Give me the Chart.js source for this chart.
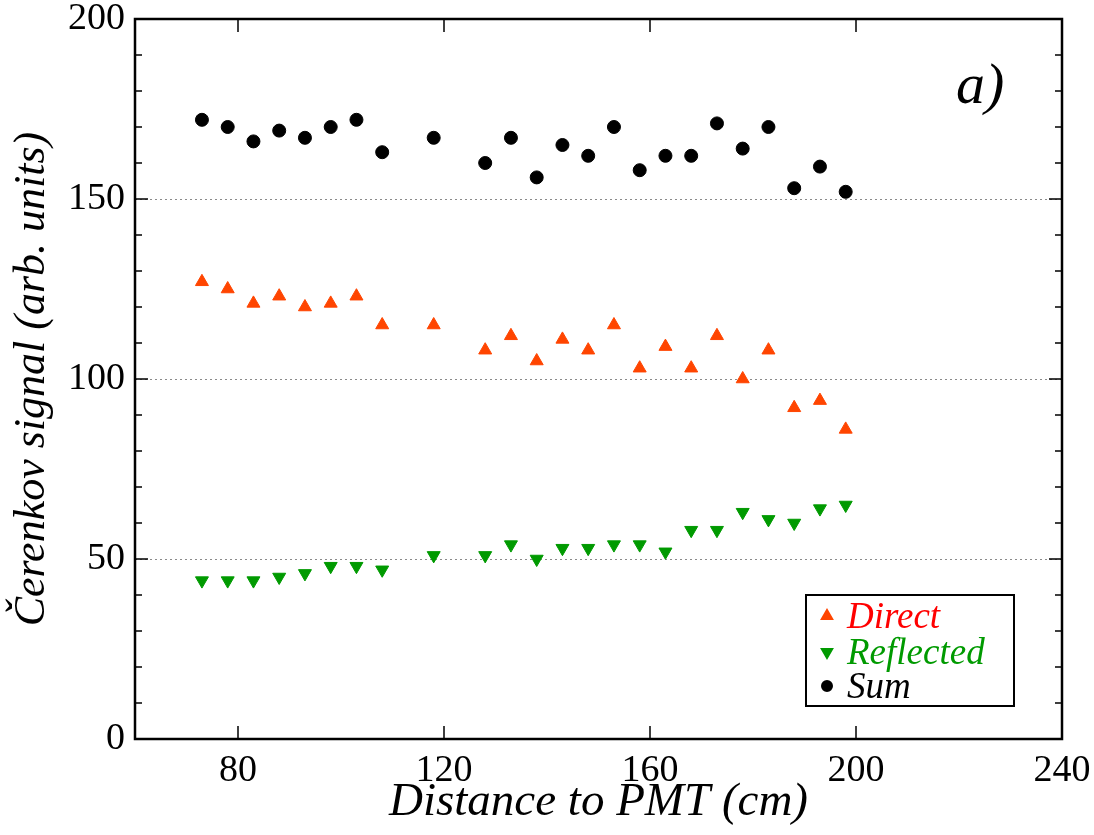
<!DOCTYPE html>
<html>
<head>
<meta charset="utf-8">
<script src="https://cdn.jsdelivr.net/npm/chart.js@4.4.0/dist/chart.umd.min.js"></script>
<style>
    html, body { margin: 0; padding: 0; background: #fff; }
    #wrap { width: 1094px; height: 835px; }
</style>
</head>
<body>
<div id="wrap"><canvas id="chart" width="1094" height="835"></canvas></div>
<script>
// Distance to PMT (cm)
const distances = [73, 78, 83, 88, 93, 98, 103, 108, 118, 128, 133, 138, 143, 148, 153, 158, 163, 168, 173, 178, 183, 188, 193, 198];
// Cerenkov signal (arb. units)
const directSignal = [127, 125, 121, 123, 120, 121, 123, 115, 115, 108, 112, 105, 111, 108, 115, 103, 109, 103, 112, 100, 108, 92, 94, 86];
const reflectedSignal = [44, 44, 44, 45, 46, 48, 48, 47, 51, 51, 54, 50, 53, 53, 54, 54, 52, 58, 58, 63, 61, 60, 64, 65];
const sumSignal = [172, 170, 166, 169, 167, 170, 172, 163, 167, 160, 167, 156, 165, 162, 170, 158, 162, 162, 171, 164, 170, 153, 159, 152];

const xTicks = [80, 120, 160, 200, 240];
const yTicks = [0, 50, 100, 150, 200];
const yMinorTicks = [10, 20, 30, 40, 60, 70, 80, 90, 110, 120, 130, 140, 160, 170, 180, 190];
const yGridValues = [50, 100, 150];

const seriesNames = ['Direct', 'Reflected', 'Sum'];
const markerColors = ['#ff4500', '#009a00', '#000000'];
const labelColors = ['#ff0000', '#009a00', '#000000'];

const toPoints = ys => ys.map((y, i) => ({ x: distances[i], y: y }));

const serif = "'Liberation Serif', 'Times New Roman', serif";

// cadre + graduations vers l'intérieur, légende, étiquette a)
const framePlugin = {
    id: 'frame',
    afterDraw(chart) {
        const ctx = chart.ctx;
        const a = chart.chartArea;
        const xs = chart.scales.x;
        const ys = chart.scales.y;
        ctx.save();
        ctx.strokeStyle = '#000';
        ctx.lineWidth = 1.5;
        ctx.beginPath();
        xTicks.forEach(v => {
            const px = xs.getPixelForValue(v);
            ctx.moveTo(px, a.bottom); ctx.lineTo(px, a.bottom - 13);
            ctx.moveTo(px, a.top); ctx.lineTo(px, a.top + 13);
        });
        yTicks.forEach(v => {
            const py = ys.getPixelForValue(v);
            ctx.moveTo(a.left, py); ctx.lineTo(a.left + 13, py);
            ctx.moveTo(a.right, py); ctx.lineTo(a.right - 13, py);
        });
        yMinorTicks.forEach(v => {
            const py = ys.getPixelForValue(v);
            ctx.moveTo(a.left, py); ctx.lineTo(a.left + 7, py);
            ctx.moveTo(a.right, py); ctx.lineTo(a.right - 7, py);
        });
        ctx.stroke();

        ctx.lineWidth = 2.5;
        ctx.strokeRect(a.left, a.top, a.right - a.left, a.bottom - a.top);

        // légende
        ctx.lineWidth = 2;
        ctx.strokeRect(806, 595, 208, 111);
        const rows = [616, 652, 686];
        chart.data.datasets.forEach((ds, i) => {
            ctx.fillStyle = ds.backgroundColor;
            ctx.strokeStyle = ds.borderColor;
            Chart.helpers.drawPoint(ctx, {
                pointStyle: ds.pointStyle,
                rotation: ds.rotation || 0,
                radius: ds.pointStyle === 'circle' ? 5 : 6,
                borderWidth: 1
            }, 827, rows[i]);
            ctx.fillStyle = labelColors[i];
            ctx.font = 'italic 37px ' + serif;
            ctx.textBaseline = 'middle';
            ctx.textAlign = 'left';
            ctx.fillText(seriesNames[i], 847, rows[i] + 2);
        });

        ctx.fillStyle = '#000';
        ctx.font = 'italic 58px ' + serif;
        ctx.textBaseline = 'alphabetic';
        ctx.fillText('a)', 956, 103);
        ctx.restore();
    }
};

new Chart(document.getElementById('chart'), {
    type: 'scatter',
    data: {
        datasets: [
            {
                label: seriesNames[0],
                data: toPoints(directSignal),
                pointStyle: 'triangle',
                pointRadius: 7.5,
                backgroundColor: markerColors[0],
                borderColor: markerColors[0],
                borderWidth: 1
            },
            {
                label: seriesNames[1],
                data: toPoints(reflectedSignal),
                pointStyle: 'triangle',
                rotation: 180,
                pointRadius: 7.5,
                backgroundColor: markerColors[1],
                borderColor: markerColors[1],
                borderWidth: 1
            },
            {
                label: seriesNames[2],
                data: toPoints(sumSignal),
                pointStyle: 'circle',
                pointRadius: 6.5,
                backgroundColor: markerColors[2],
                borderColor: markerColors[2],
                borderWidth: 1
            }
        ]
    },
    options: {
        responsive: false,
        animation: false,
        devicePixelRatio: 1,
        layout: { padding: { left: 0, right: 32, top: 19, bottom: 0 } },
        plugins: {
            legend: { display: false },
            tooltip: { enabled: false }
        },
        scales: {
            x: {
                type: 'linear',
                min: 60,
                max: 240,
                afterBuildTicks: scale => { scale.ticks = xTicks.map(v => ({ value: v })); },
                afterFit: scale => {
                    scale.height = 96;
                    scale.paddingLeft = 0;
                    scale.paddingRight = 0;
                },
                grid: { display: false, drawTicks: false },
                border: { display: false },
                ticks: {
                    color: '#000',
                    padding: 9,
                    maxRotation: 0,
                    font: { family: serif, size: 38 }
                },
                title: {
                    display: true,
                    text: 'Distance to PMT (cm)',
                    color: '#000',
                    padding: { top: 0, bottom: 4 },
                    font: { family: serif, size: 47, style: 'italic' }
                }
            },
            y: {
                min: 0,
                max: 200,
                afterBuildTicks: scale => { scale.ticks = yTicks.map(v => ({ value: v })); },
                afterFit: scale => {
                    scale.width = 135;
                    scale.paddingTop = 0;
                    scale.paddingBottom = 0;
                },
                grid: {
                    drawTicks: false,
                    color: c => yGridValues.includes(c.tick.value) ? '#8a8a8a' : 'rgba(0,0,0,0)',
                    lineWidth: 1
                },
                border: { display: false, dash: [2, 3] },
                ticks: {
                    color: '#000',
                    padding: 10,
                    font: { family: serif, size: 38 }
                },
                title: {
                    display: true,
                    text: 'Čerenkov signal (arb. units)',
                    color: '#000',
                    padding: { top: 6, bottom: 0 },
                    font: { family: serif, size: 44, style: 'italic' }
                }
            }
        }
    },
    plugins: [framePlugin]
});
</script>
</body>
</html>
